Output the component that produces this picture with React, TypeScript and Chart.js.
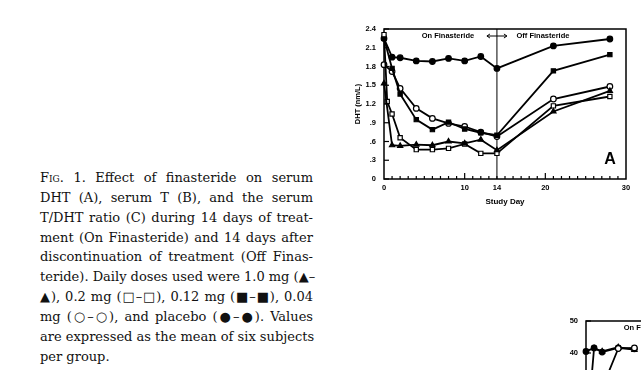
import React, { useEffect, useRef } from "react";
import { Chart, registerables } from "chart.js";
Chart.register(...registerables);

// ---- Panel A data (DHT, nm/L) ----
const days = [0, 1, 2, 4, 6, 8, 10, 12, 14, 21, 28];
const dose02Days = [0, 0.4, 1, 2, 4, 6, 8, 10, 12, 14, 21, 28];
const dose10 = [1.53, 0.54, 0.53, 0.55, 0.54, 0.6, 0.57, 0.63, 0.46, 1.08, 1.41];
const dose02 = [2.31, 1.24, 1.04, 0.66, 0.47, 0.47, 0.49, 0.56, 0.41, 0.41, 1.17, 1.32];
const dose012 = [2.25, 1.77, 1.36, 0.95, 0.79, 0.91, 0.8, 0.74, 0.7, 1.73, 1.99];
const dose004 = [1.83, 1.72, 1.45, 1.13, 0.97, 0.89, 0.84, 0.75, 0.68, 1.28, 1.48];
const placebo = [2.25, 1.95, 1.94, 1.89, 1.88, 1.93, 1.89, 1.96, 1.77, 2.13, 2.24];
const yTicksA = [0, 0.3, 0.6, 0.9, 1.2, 1.5, 1.8, 2.1, 2.4];
const yTickLabelsA = ["0", ".3", ".6", ".9", "1.2", "1.5", "1.8", "2.1", "2.4"];
const xTicks = [0, 10, 14, 20, 30];
const xTickLabels = ["0", "10", "14", "20", "30"];

// ---- Panel B data (only the visible corner) ----
const bDays = [0, 1, 2, 4, 6];
const bPlacebo = [40.5, 41.6, 40.3, 41.6, 41.3];
const bDoseHigh = [12, 41.5, 40.5, 41.8, 41.0];
const bDoseLow = [22, 25, 29, 41.4, 41.6];
const yTicksB = [0, 10, 20, 30, 40, 50];
const yTickLabelsB = ["0", "10", "20", "30", "40", "50"];

const captionLines = [
  "Effect of finasteride on serum",
  "DHT (A), serum T (B), and the serum",
  "T/DHT ratio (C) during 14 days of treat-",
  "ment (On Finasteride) and 14 days after",
  "discontinuation of treatment (Off Finas-",
  "teride). Daily doses used were 1.0 mg (\u25B2\u2013",
  "\u25B2), 0.2 mg (\u25A1\u2013\u25A1), 0.12 mg (\u25A0\u2013\u25A0), 0.04",
  "mg (\u25CB\u2013\u25CB), and placebo (\u25CF\u2013\u25CF). Values",
  "are expressed as the mean of six subjects",
  "per group.",
];

const SANS = "'Liberation Sans', Arial, sans-serif";

function ds(label: string, xs: number[], ys: number[], style: string, filled: boolean, r: number) {
  return {
    label,
    data: xs.map((x, i) => ({ x, y: ys[i] })),
    borderColor: "#000",
    borderWidth: 1.8,
    pointStyle: style,
    pointRadius: r,
    pointBackgroundColor: filled ? "#000" : "#fff",
    pointBorderColor: "#000",
    pointBorderWidth: 1.2,
    clip: false as any,
    tension: 0,
  };
}

function framePlugin(yTicks: number[], letter: string | null) {
  return {
    id: "frame",
    beforeDatasetsDraw(chart: any) {
      const { ctx, chartArea, scales } = chart;
      const { left, right, top, bottom } = chartArea;
      const x = scales.x;
      const y = scales.y;
      ctx.save();
      ctx.strokeStyle = "#000";
      ctx.lineWidth = 1.5;
      ctx.strokeRect(left, top, right - left, bottom - top);
      ctx.lineWidth = 1.2;
      const line = (x1: number, y1: number, x2: number, y2: number) => {
        ctx.beginPath();
        ctx.moveTo(x1, y1);
        ctx.lineTo(x2, y2);
        ctx.stroke();
      };
      yTicks.forEach((v) => {
        const py = y.getPixelForValue(v);
        line(left, py, left + 5, py);
      });
      for (let d = 1; d < 30; d++) {
        const px = x.getPixelForValue(d);
        const len = d % 10 === 0 ? 6 : 3;
        line(px, bottom, px, bottom - len);
      }
      const p14 = x.getPixelForValue(14);
      ctx.lineWidth = 1;
      line(p14, top, p14, bottom);
      // arrow
      const ay = top + 7;
      ctx.lineWidth = 1;
      line(p14 - 10, ay, p14 + 10, ay);
      line(p14 - 10, ay, p14 - 7, ay - 2);
      line(p14 - 10, ay, p14 - 7, ay + 2);
      line(p14 + 10, ay, p14 + 7, ay - 2);
      line(p14 + 10, ay, p14 + 7, ay + 2);
      ctx.fillStyle = "#000";
      ctx.font = `bold 7.5px ${SANS}`;
      ctx.textAlign = "center";
      ctx.textBaseline = "middle";
      ctx.fillText("On Finasteride", p14 - 49, ay);
      ctx.fillText("Off Finasteride", p14 + 46, ay);
      if (letter) {
        ctx.font = `bold 16px ${SANS}`;
        ctx.fillText(letter, right - 16, bottom - 19);
      }
      ctx.restore();
    },
  };
}

function makeOptions(yMax: number, yTicks: number[], yLabels: string[], yWidth: number, xHeight: number, pad: any, yTitle: string | null, xTitle: string | null) {
  return {
    responsive: false,
    animation: false as const,
    layout: { padding: pad },
    plugins: { legend: { display: false }, tooltip: { enabled: false } },
    scales: {
      x: {
        type: "linear" as const,
        min: 0,
        max: 30,
        grid: { display: false, drawTicks: false },
        border: { display: false },
        afterBuildTicks: (s: any) => {
          s.ticks = xTicks.map((v) => ({ value: v }));
        },
        afterFit: (s: any) => {
          s.height = xHeight;
        },
        ticks: {
          padding: 4,
          color: "#000",
          font: { family: SANS, size: 7.5, weight: "bold" as const },
          maxRotation: 0,
          autoSkip: false,
          callback: (_v: any, i: number) => xTickLabels[i],
        },
        title: {
          display: !!xTitle,
          text: xTitle || "",
          color: "#000",
          font: { family: SANS, size: 8, weight: "bold" as const },
          padding: { top: 0, bottom: 4.2 },
        },
      },
      y: {
        type: "linear" as const,
        min: 0,
        max: yMax,
        grid: { display: false, drawTicks: false },
        border: { display: false },
        afterBuildTicks: (s: any) => {
          s.ticks = yTicks.map((v) => ({ value: v }));
        },
        afterFit: (s: any) => {
          s.width = yWidth;
        },
        ticks: {
          padding: 8,
          color: "#000",
          font: { family: SANS, size: 7.5, weight: "bold" as const },
          autoSkip: false,
          callback: (_v: any, i: number) => yLabels[i],
        },
        title: {
          display: !!yTitle,
          text: yTitle || "",
          color: "#000",
          font: { family: SANS, size: 7.5, weight: "bold" as const },
          padding: { top: 13.5, bottom: 0 },
        },
      },
    },
  };
}

function ChartA() {
  const ref = useRef<HTMLCanvasElement>(null);
  useEffect(() => {
    const chart = new Chart(ref.current!, {
      type: "line",
      data: {
        datasets: [
          ds("1.0 mg", days, dose10, "triangle", true, 3),
          ds("0.2 mg", dose02Days, dose02, "rect", false, 3),
          ds("0.12 mg", days, dose012, "rect", true, 3),
          ds("0.04 mg", days, dose004, "circle", false, 2.8),
          ds("Placebo", days, placebo, "circle", true, 2.8),
        ] as any,
      },
      options: makeOptions(2.4, yTicksA, yTickLabelsA, 44, 32, { top: 14, right: 15, left: 0, bottom: 0 }, "DHT (nm/L)", "Study Day") as any,
      plugins: [framePlugin(yTicksA, "A")],
    });
    return () => chart.destroy();
  }, []);
  return (
    <canvas
      ref={ref}
      width={301}
      height={196}
      style={{ position: "absolute", left: 340, top: 15, width: 301, height: 196 }}
    />
  );
}

function ChartB() {
  const ref = useRef<HTMLCanvasElement>(null);
  useEffect(() => {
    const chart = new Chart(ref.current!, {
      type: "line",
      data: {
        datasets: [
          ds("low", bDays, bDoseLow, "circle", false, 2.8),
          ds("high", bDays, bDoseHigh, "triangle", true, 3),
          ds("placebo", bDays, bPlacebo, "circle", true, 2.8),
        ] as any,
      },
      options: makeOptions(50, yTicksB, yTickLabelsB, 46, 24, { top: 16, right: 22, left: 0, bottom: 0 }, null, null) as any,
      plugins: [framePlugin(yTicksB, null)],
    });
    return () => chart.destroy();
  }, []);
  return (
    <canvas
      ref={ref}
      width={310}
      height={200}
      style={{ position: "absolute", left: 540, top: 305, width: 310, height: 200 }}
    />
  );
}

function Caption() {
  return (
    <div
      style={{
        position: "absolute",
        left: 40,
        top: 168,
        width: 273,
        fontFamily: "'DejaVu Serif', serif",
        fontSize: 13,
        lineHeight: "19.85px",
        color: "#111",
      }}
    >
      {captionLines.map((t, i) => (
        <div
          key={i}
          style={{
            whiteSpace: "nowrap",
            textAlign: "justify",
            textJustify: "inter-word",
            textAlignLast: i === captionLines.length - 1 ? "left" : "justify",
          } as any}
        >
          {i === 0 ? (
            <>
              F<span style={{ fontVariant: "small-caps" }}>ig</span>. 1. {t}
            </>
          ) : (
            t
          )}
        </div>
      ))}
    </div>
  );
}

export default function App() {
  return (
    <div
      style={{
        position: "fixed",
        left: 0,
        top: 0,
        width: 641,
        height: 370,
        overflow: "hidden",
        background: "#fff",
      }}
    >
      <Caption />
      <ChartA />
      <ChartB />
    </div>
  );
}
